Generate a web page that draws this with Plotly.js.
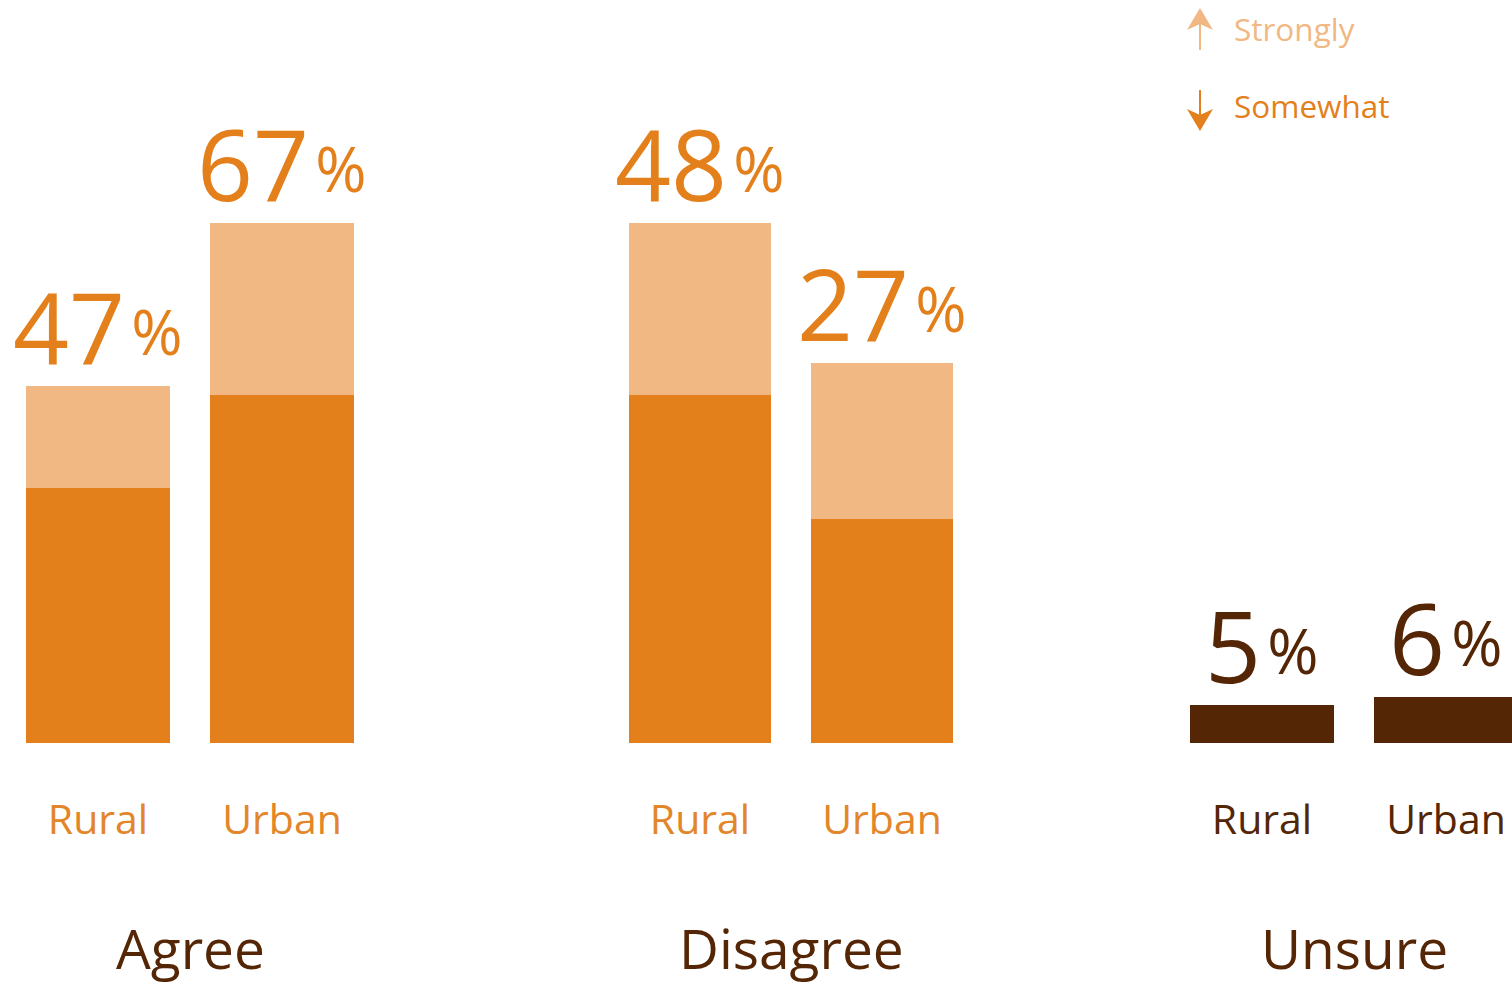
<!DOCTYPE html>
<html>
<head>
<meta charset="utf-8">
<script src="https://cdn.plot.ly/plotly-3.0.1.min.js"></script>
<style>html,body{margin:0;padding:0;background:#fff;}#chart{width:1512px;height:988px;}</style>
</head>
<body>
<div id="chart"></div>
<script>
// ---- data ----
const groups = ['Agree', 'Disagree', 'Unsure'];
const areas = ['Rural', 'Urban'];
const agreeSomewhat = [33.5, 45.8];
const agreeStrongly = [13.5, 22.6];
const disagreeSomewhat = [45.8, 29.5];
const disagreeStrongly = [22.6, 20.5];
const unsureValues = [5.0, 6.05];
const agreeLabels = ['47', '67'];
const disagreeLabels = ['48', '27'];
const unsureLabels = ['5', '6'];
const legendLabels = ['Strongly', 'Somewhat'];

// ---- styles ----
const W = 1512, H = 988;
const ORANGE = '#E3801C', LIGHT = '#F1B883', BROWN = '#542605', TXT = '#E3862A';
const FONT = 'Open Sans, Noto Sans, sans-serif';

const traces = [
  {type:'bar', x:areas, y:agreeSomewhat, xaxis:'x', yaxis:'y', marker:{color:ORANGE}, hoverinfo:'none'},
  {type:'bar', x:areas, y:agreeStrongly, xaxis:'x', yaxis:'y', marker:{color:LIGHT}, hoverinfo:'none'},
  {type:'bar', x:areas, y:disagreeSomewhat, xaxis:'x2', yaxis:'y', marker:{color:ORANGE}, hoverinfo:'none'},
  {type:'bar', x:areas, y:disagreeStrongly, xaxis:'x2', yaxis:'y', marker:{color:LIGHT}, hoverinfo:'none'},
  {type:'bar', x:areas, y:unsureValues, xaxis:'x3', yaxis:'y', marker:{color:BROWN}, hoverinfo:'none'}
];

function xa(d0, d1, r1, col) {
  return {
    domain:[d0/W, d1/W], range:[-0.5, r1], type:'category', anchor:'y',
    showgrid:false, zeroline:false, showline:false,
    ticks:'outside', ticklen:41, tickcolor:'rgba(0,0,0,0)',
    tickfont:{family:FONT, size:41, color:col}, fixedrange:true
  };
}

const annotations = [];
function pct(axis, labels, totals, col) {
  areas.forEach((a, i) => {
    annotations.push({
      xref:axis, yref:'y', x:a, y:totals[i], xanchor:'center', yanchor:'bottom',
      text: labels[i] + '<span style="font-size:62px;baseline-shift:9px">\u200A%</span>',
      showarrow:false, font:{family:FONT, size:98, color:col}, yshift:-9
    });
  });
}
pct('x', agreeLabels, agreeSomewhat.map((v,i)=>v+agreeStrongly[i]), ORANGE);
pct('x2', disagreeLabels, disagreeSomewhat.map((v,i)=>v+disagreeStrongly[i]), ORANGE);
pct('x3', unsureLabels, unsureValues, BROWN);

['x','x2','x3'].forEach((ax, i) => {
  annotations.push({
    xref:ax, yref:'paper', x:0.5, y:1/H, xanchor:'center', yanchor:'bottom',
    text:groups[i], showarrow:false, font:{family:FONT, size:55, color:BROWN}
  });
});

// legend texts
annotations.push({xref:'paper', yref:'paper', x:1232/W, y:1-29/H, xanchor:'left', yanchor:'middle',
  text:legendLabels[0], showarrow:false, font:{family:FONT, size:31.5, color:LIGHT}});
annotations.push({xref:'paper', yref:'paper', x:1232/W, y:1-106/H, xanchor:'left', yanchor:'middle',
  text:legendLabels[1], showarrow:false, font:{family:FONT, size:31.5, color:ORANGE}});

function px(x){return (x/W).toFixed(5);} function py(y){return (1-y/H).toFixed(5);}
const shapes = [
  {type:'line', xref:'paper', yref:'paper', x0:1200/W, x1:1200/W, y0:1-50/H, y1:1-24/H, line:{color:LIGHT, width:2}},
  {type:'path', xref:'paper', yref:'paper', path:`M${px(1200)},${py(8)} L${px(1213)},${py(30)} L${px(1200)},${py(24)} L${px(1187)},${py(30)} Z`, fillcolor:LIGHT, line:{width:0}},
  {type:'line', xref:'paper', yref:'paper', x0:1200/W, x1:1200/W, y0:1-90/H, y1:1-116/H, line:{color:ORANGE, width:2}},
  {type:'path', xref:'paper', yref:'paper', path:`M${px(1200)},${py(131)} L${px(1213)},${py(109)} L${px(1200)},${py(115)} L${px(1187)},${py(109)} Z`, fillcolor:ORANGE, line:{width:0}}
];

const layout = {
  width:W, height:H, margin:{l:0, r:0, t:0, b:0}, paper_bgcolor:'#fff', plot_bgcolor:'#fff',
  barmode:'stack', bargap:0.217, showlegend:false,
  xaxis: xa(6, 374, 1.5, TXT),
  xaxis2: xa(609, 973, 1.5, TXT),
  xaxis3: xa(1170, 1512, 1.5 - 26/184, BROWN),
  yaxis: {domain:[245/H, 1], range:[0, 743/7.6], visible:false, fixedrange:true},
  annotations: annotations, shapes: shapes
};

Plotly.newPlot('chart', traces, layout, {displayModeBar:false, staticPlot:true});
</script>
</body>
</html>
